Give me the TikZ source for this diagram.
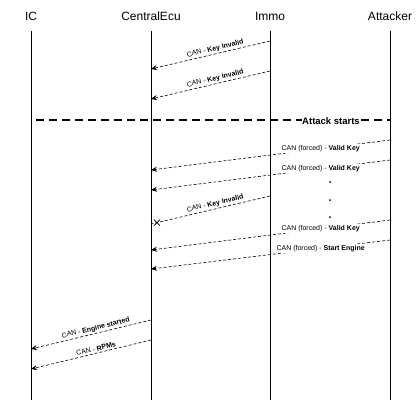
\documentclass[tikz,border=0pt]{standalone}
\usepackage{fontspec}
\setmainfont{Liberation Sans}
\usetikzlibrary{arrows.meta,calc}
\begin{document}
\begin{tikzpicture}[x=1pt,y=-1pt,
  lifeline/.style={line width=0.8pt},
  header/.style={font=\fontsize{12}{14}\selectfont, anchor=center, inner sep=0pt},
  msg/.style={dash pattern=on 3pt off 2pt, line width=0.6pt, -{Stealth[length=6pt,width=5pt,inset=2pt]}},
  lost/.style={dash pattern=on 3pt off 2pt, line width=0.6pt},
  slab/.style={font=\fontsize{7}{8}\selectfont, sloped, above, inner sep=1.5pt},
  hlab/.style={font=\fontsize{7}{8}\selectfont, fill=white, inner sep=1pt},
  dotmark/.style={circle, fill=black, inner sep=0pt, minimum size=2pt}
]
\useasboundingbox[fill=white] (0,0) rectangle (420,402);
% headers
\node[header] (hIC) at (31,16) {IC};
\node[header] (hCE) at (151,16) {CentralEcu};
\node[header] (hIM) at (270,16) {Immo};
\node[header] (hAT) at (390,16) {Attacker};
% lifelines
\coordinate (ICt) at (31,31);  \coordinate (ICb) at (31,400);
\coordinate (CEt) at (151,31); \coordinate (CEb) at (151,400);
\coordinate (IMt) at (270,31); \coordinate (IMb) at (270,400);
\coordinate (ATt) at (390,31); \coordinate (ATb) at (390,400);
\draw[lifeline] (ICt) -- (ICb);
\draw[lifeline] (CEt) -- (CEb);
\draw[lifeline] (IMt) -- (IMb);
\draw[lifeline] (ATt) -- (ATb);
% message endpoints
\coordinate (m1s) at (270,41);  \coordinate (m1e) at (151,69);
\coordinate (m2s) at (270,71);  \coordinate (m2e) at (151,99);
\coordinate (m3s) at (390,140); \coordinate (m3e) at (151,170);
\coordinate (m4s) at (390,160); \coordinate (m4e) at (151,190);
\coordinate (m5s) at (270,196); \coordinate (m5e) at (151,224);
\coordinate (m6s) at (390,220); \coordinate (m6e) at (151,250);
\coordinate (m7s) at (390,240); \coordinate (m7e) at (151,269);
\coordinate (m8s) at (151,320); \coordinate (m8e) at (31,349);
\coordinate (m9s) at (151,340); \coordinate (m9e) at (31,369);
\draw[msg] (m1s) -- node[slab, pos=0.45] {CAN - \textbf{Key invalid}} (m1e);
\draw[msg] (m2s) -- node[slab, pos=0.45] {CAN - \textbf{Key invalid}} (m2e);
% attack starts
\coordinate (as1) at (36,120); \coordinate (as2) at (390,120);
\draw[line width=1.6pt, dash pattern=on 8pt off 5pt] (as1) -- (as2);
\node[font=\fontsize{9.5}{11}\selectfont\bfseries, fill=white, inner sep=0.5pt] (ast) at (331,121) {Attack starts};
\draw[msg] (m3s) -- node[hlab, pos=0.29] {CAN (forced) - \textbf{Valid Key}} (m3e);
\draw[msg] (m4s) -- node[hlab, pos=0.29] {CAN (forced) - \textbf{Valid Key}} (m4e);
\node[dotmark] (d1) at (330,182) {};
\node[dotmark] (d2) at (330,200) {};
\node[dotmark] (d3) at (330,217) {};
\draw[lost] (m5s) -- node[slab, pos=0.45] {CAN - \textbf{Key invalid}} coordinate[pos=0.95] (xm) (m5e);
\draw[line width=0.7pt] ($(xm)+(-3,-3)$) -- ($(xm)+(3,3)$) ($(xm)+(-3,3)$) -- ($(xm)+(3,-3)$);
\draw[msg] (m6s) -- node[hlab, pos=0.29] {CAN (forced) - \textbf{Valid Key}} (m6e);
\draw[msg] (m7s) -- node[hlab, pos=0.29] {CAN (forced) - \textbf{Start Engine}} (m7e);
\draw[msg] (m8s) -- node[slab, pos=0.45] {CAN - \textbf{Engine started}} (m8e);
\draw[msg] (m9s) -- node[slab, pos=0.45] {CAN - \textbf{RPMs}} (m9e);
\end{tikzpicture}
\end{document}
